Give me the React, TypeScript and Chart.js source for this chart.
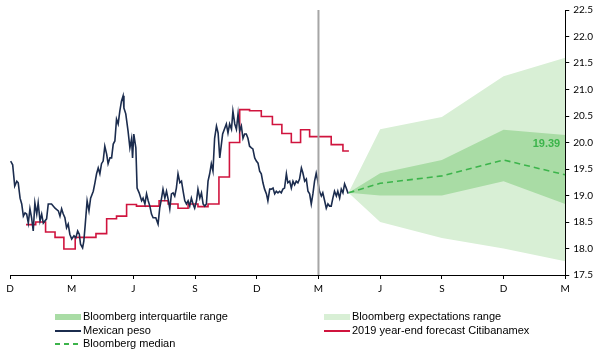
import React, { useEffect, useRef } from 'react';
import { Chart, registerables } from 'chart.js';

Chart.register(...registerables);

// ---- data ----
const tickLabels = ['D', 'M', 'J', 'S', 'D', 'M', 'J', 'S', 'D', 'M'];

// months since December 2017
const pesoMonths = [
  0.03, 0.13, 0.23, 0.33, 0.40, 0.49, 0.57, 0.65, 0.73, 0.81, 0.89, 0.97, 1.05, 1.13, 1.21, 1.30, 1.37, 1.46, 1.54, 1.62,
  1.78, 1.86, 2.02, 2.19, 2.35, 2.43, 2.51, 2.59, 2.67, 2.75, 2.83, 2.91, 3.00, 3.11, 3.20, 3.29, 3.37, 3.43, 3.53, 3.59,
  3.66, 3.75, 3.84, 3.92, 4.05, 4.13, 4.21, 4.29, 4.37, 4.45, 4.53, 4.61, 4.70, 4.77, 4.86, 4.94, 5.02, 5.10, 5.18, 5.26,
  5.34, 5.42, 5.50, 5.54, 5.63, 5.74, 5.83, 5.91, 5.96, 6.02, 6.12, 6.18, 6.28, 6.40, 6.47, 6.56, 6.64, 6.72, 6.80, 6.88,
  6.96, 7.09, 7.20, 7.28, 7.37, 7.44, 7.53, 7.61, 7.69, 7.77, 7.85, 7.93, 8.01, 8.09, 8.17, 8.26, 8.34, 8.42, 8.50, 8.58,
  8.66, 8.74, 8.82, 8.90, 8.98, 9.07, 9.14, 9.23, 9.31, 9.39, 9.47, 9.55, 9.63, 9.71, 9.79, 9.87, 9.95, 10.04, 10.12, 10.20,
  10.34, 10.52, 10.60, 10.68, 10.77, 10.84, 10.93, 11.01, 11.09, 11.17, 11.25, 11.33, 11.41, 11.49, 11.57, 11.65, 11.74, 11.81, 11.90, 11.98,
  12.06, 12.14, 12.22, 12.30, 12.38, 12.47, 12.54, 12.63, 12.71, 12.79, 12.87, 12.95, 13.03, 13.11, 13.19, 13.27, 13.35, 13.44, 13.51, 13.60,
  13.68, 13.76, 13.84, 13.92, 14.00, 14.08, 14.17, 14.24, 14.33, 14.41, 14.49, 14.57, 14.65, 14.73, 14.81, 14.89, 14.97, 15.05, 15.14, 15.21,
  15.30, 15.38, 15.46, 15.54, 15.62, 15.70, 15.78, 15.87, 15.94, 16.03, 16.11, 16.19, 16.27, 16.35, 16.43, 16.46,
];
const pesoValues = [
  19.65, 19.58, 19.18, 19.27, 19.24, 18.95, 18.84, 18.61, 18.67, 18.65, 18.48, 18.75, 18.58, 18.33, 18.86, 18.65, 18.86, 18.52, 18.65, 18.48,
  18.56, 18.84, 18.84, 18.76, 18.71, 18.61, 18.75, 18.65, 18.58, 18.39, 18.46, 18.27, 18.18, 18.24, 18.20, 18.33, 18.27, 18.08, 18.01, 18.14,
  18.46, 18.90, 18.71, 18.95, 19.08, 19.24, 19.41, 19.52, 19.41, 19.60, 19.65, 19.93, 19.78, 19.60, 19.71, 19.71, 19.97, 20.03, 20.44, 20.35,
  20.59, 20.78, 20.88, 20.65, 20.54, 20.22, 19.90, 20.07, 19.71, 20.16, 19.90, 19.14, 19.05, 18.90, 18.95, 18.84, 19.03, 18.90, 18.80, 18.65,
  18.58, 18.58, 18.46, 18.76, 18.95, 19.12, 18.95, 19.08, 18.93, 18.75, 19.03, 19.05, 18.99, 19.14, 19.41, 19.24, 19.27, 19.08, 18.90, 18.84,
  18.90, 18.80, 18.95, 18.84, 18.76, 18.90, 19.12, 18.95, 19.05, 18.84, 18.80, 18.84, 19.27, 19.41, 19.60, 19.46, 20.08, 20.31, 20.18, 19.71,
  20.16, 20.35, 20.18, 20.35, 20.25, 20.59, 20.35, 20.25, 20.54, 20.22, 20.31, 20.08, 20.16, 20.16, 20.08, 19.93, 19.90, 19.88, 19.71, 19.65,
  19.61, 19.46, 19.41, 19.24, 19.12, 19.03, 18.90, 19.12, 19.12, 19.14, 19.03, 19.08, 19.05, 19.08, 19.05, 19.12, 19.14, 19.41, 19.24, 19.27,
  19.14, 19.27, 19.20, 19.27, 19.24, 19.31, 19.52, 19.43, 19.27, 19.31, 19.08, 19.03, 18.84, 19.03, 19.27, 19.42, 19.27, 19.08, 18.99, 19.05,
  18.90, 18.76, 18.84, 18.80, 18.80, 18.95, 19.08, 18.99, 19.08, 18.95, 19.12, 19.05, 19.22, 19.14, 19.05, 19.05,
];

// 2019 year-end forecast, Citibanamex survey (value holds until next survey)
const citiMonths = [
  0.78, 1.25, 1.73, 2.19, 2.62, 3.17, 4.18, 4.70, 5.18, 5.67, 6.15, 7.25, 7.69, 8.17, 8.66, 9.14, 9.63, 10.16, 10.67, 11.17,
  11.65, 12.22, 12.76, 13.22, 13.68, 14.13, 14.57, 15.62, 16.19, 16.48,
];
const citiValues = [
  18.45, 18.50, 18.31, 18.21, 17.99, 18.21, 18.28, 18.56, 18.61, 18.83, 18.80, 18.90, 18.84, 18.76, 18.84, 18.79, 18.84, 19.35, 20.00, 20.62,
  20.60, 20.49, 20.34, 20.17, 20.00, 20.24, 20.11, 19.96, 19.84, 19.84,
];

// Bloomberg forecasts
const fcMonths = [16.46, 18, 21, 24, 27];
const expLow = [19.05, 18.5, 18.2, 18.0, 17.76];
const expHigh = [19.05, 20.25, 20.48, 21.25, 21.6];
const iqrLow = [19.05, 19.0, 19.0, 19.27, 18.84];
const iqrHigh = [19.05, 19.42, 19.67, 20.24, 20.14];
const medianValues = [19.05, 19.23, 19.37, 19.67, 19.39];

const currentMonth = 15;

const NAVY = '#1b2c4e';
const RED = '#d0143e';
const GREEN = '#3cb44b';
const LIGHT = '#d8efd5';
const MID = '#a9dca5';

const pts = (xs: number[], ys: number[]) => xs.map((x, i) => ({ x, y: ys[i] }));

const legendItems = [
  { label: 'Bloomberg interquartile range', kind: 'box', color: MID, col: 0, row: 0 },
  { label: 'Bloomberg expectations range', kind: 'box', color: LIGHT, col: 1, row: 0 },
  { label: 'Mexican peso', kind: 'line', color: NAVY, col: 0, row: 1 },
  { label: '2019 year-end forecast Citibanamex', kind: 'line', color: RED, col: 1, row: 1 },
  { label: 'Bloomberg median', kind: 'dash', color: GREEN, col: 0, row: 2 },
];

const extrasPlugin = {
  id: 'extras',
  afterDatasetsDraw(chart: any) {
    const { ctx, chartArea, scales } = chart;
    const x = scales.x.getPixelForValue(currentMonth);
    ctx.save();
    ctx.strokeStyle = '#a6a6a6';
    ctx.lineWidth = 2;
    ctx.beginPath();
    ctx.moveTo(x, chartArea.top);
    ctx.lineTo(x, chartArea.bottom);
    ctx.stroke();
    const last = medianValues[medianValues.length - 1];
    ctx.fillStyle = GREEN;
    ctx.font = 'bold 11px "Liberation Sans", Arial, sans-serif';
    ctx.textAlign = 'right';
    ctx.textBaseline = 'middle';
    ctx.fillText(last.toFixed(2), scales.x.getPixelForValue(fcMonths[fcMonths.length - 1]) - 5, scales.y.getPixelForValue(last) - 31);
    ctx.restore();
  },
  afterDraw(chart: any) {
    const { ctx } = chart;
    ctx.save();
    ctx.font = '11px "Liberation Sans", Arial, sans-serif';
    ctx.textBaseline = 'middle';
    ctx.textAlign = 'left';
    const colX = [55, 324];
    const rowY = [317, 331, 344];
    legendItems.forEach((it) => {
      const x0 = colX[it.col];
      const y = rowY[it.row];
      if (it.kind === 'box') {
        ctx.fillStyle = it.color;
        ctx.fillRect(x0, y - 3, 26, 6);
      } else {
        ctx.strokeStyle = it.color;
        ctx.lineWidth = 2;
        ctx.setLineDash(it.kind === 'dash' ? [5, 4] : []);
        ctx.beginPath();
        ctx.moveTo(x0, y);
        ctx.lineTo(x0 + 26, y);
        ctx.stroke();
        ctx.setLineDash([]);
      }
      ctx.fillStyle = '#000';
      ctx.fillText(it.label, x0 + 28, y);
    });
    ctx.restore();
  },
};

export default function App() {
  const ref = useRef<HTMLCanvasElement | null>(null);
  useEffect(() => {
    if (!ref.current) return;
    const tickFont = { family: 'Lato, "Noto Sans", sans-serif', size: 10 };
    const chart = new Chart(ref.current, {
      type: 'line',
      data: {
        datasets: [
          { label: 'expLow', data: pts(fcMonths, expLow), borderWidth: 0, pointRadius: 0, fill: false, order: 6 },
          { label: 'Bloomberg expectations range', data: pts(fcMonths, expHigh), borderWidth: 0, pointRadius: 0, fill: 0, backgroundColor: LIGHT, order: 5 },
          { label: 'iqrLow', data: pts(fcMonths, iqrLow), borderWidth: 0, pointRadius: 0, fill: false, order: 4 },
          { label: 'Bloomberg interquartile range', data: pts(fcMonths, iqrHigh), borderWidth: 0, pointRadius: 0, fill: 2, backgroundColor: MID, order: 3 },
          { label: 'Bloomberg median', data: pts(fcMonths, medianValues), borderColor: GREEN, borderWidth: 1.6, borderDash: [6, 4], pointRadius: 0, fill: false, order: 2 },
          { label: '2019 year-end forecast Citibanamex', data: pts(citiMonths, citiValues), borderColor: RED, borderWidth: 1.6, stepped: true, pointRadius: 0, fill: false, order: 1 },
          { label: 'Mexican peso', data: pts(pesoMonths, pesoValues), borderColor: NAVY, borderWidth: 1.6, pointRadius: 0, fill: false, order: 0 },
        ],
      },
      options: {
        responsive: false,
        animation: false,
        events: [],
        layout: { padding: { left: 10, right: 1, top: 1, bottom: 54 } },
        plugins: { legend: { display: false }, tooltip: { enabled: false } },
        elements: { line: { tension: 0 } },
        scales: {
          x: {
            type: 'linear',
            min: 0,
            max: 27,
            grid: { display: true, drawOnChartArea: false, drawTicks: true, tickLength: 4, color: '#000' },
            border: { display: true, color: '#000', width: 1 },
            ticks: {
              stepSize: 3,
              autoSkip: false,
              maxRotation: 0,
              padding: 4,
              color: '#000',
              font: tickFont,
              callback: (v: any) => tickLabels[Math.round(Number(v) / 3)] ?? '',
            },
          },
          y: {
            position: 'right',
            min: 17.5,
            max: 22.5,
            grid: { display: true, drawOnChartArea: false, drawTicks: true, tickLength: 4, color: '#000' },
            border: { display: true, color: '#000', width: 1 },
            ticks: {
              stepSize: 0.5,
              padding: 4,
              color: '#000',
              font: tickFont,
              callback: (v: any) => Number(v).toFixed(1),
            },
          },
        },
      },
      plugins: [extrasPlugin],
    });
    return () => chart.destroy();
  }, []);
  return (
    <div style={{ position: 'fixed', left: 0, top: 0, width: 598, height: 353, background: '#fff' }}>
      <canvas ref={ref} width={598} height={353} />
    </div>
  );
}
